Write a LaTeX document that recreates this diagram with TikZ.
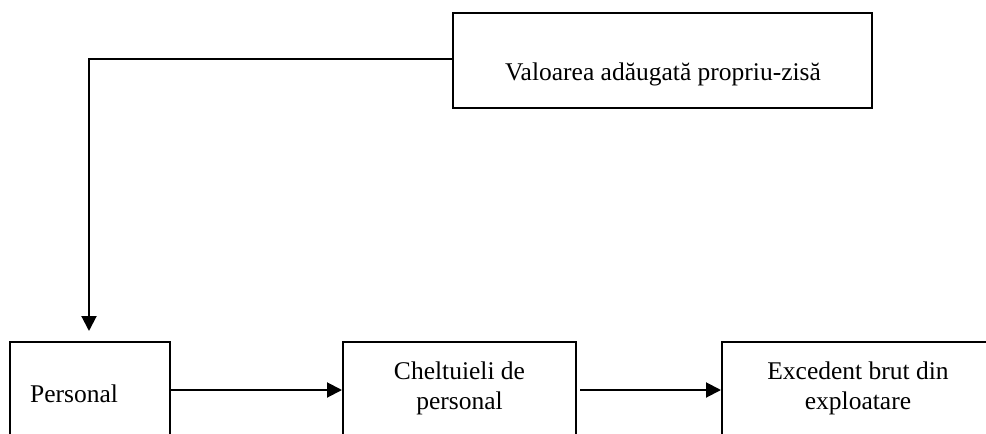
\documentclass[tikz,border=0pt]{standalone}
\usepackage{fontspec}
\setmainfont{Liberation Serif}
\usetikzlibrary{arrows.meta}
\begin{document}
\begin{tikzpicture}[x=1pt,y=-1pt,
  box/.style={draw, line width=2pt, rectangle, inner sep=0pt},
  label/.style={font=\fontsize{25.5}{30}\selectfont, inner sep=0pt},
  arr/.style={line width=2pt, -{Triangle[length=15pt,width=15pt]}}]
  \useasboundingbox (0,0) rectangle (986,434);
  \clip (0,0) rectangle (986,434);
  % boxes (the lower row runs past the bottom and right edges)
  \node[box, minimum width=419pt, minimum height=95pt] (top) at (662.5,60.5) {};
  \node[box, minimum width=160pt, minimum height=96pt] (pers) at (90,390) {};
  \node[box, minimum width=233pt, minimum height=96pt] (chelt) at (459.5,390) {};
  \node[box, minimum width=272pt, minimum height=96pt] (exc) at (858,390) {};
  % texts
  \node[label, anchor=base] (ttop) at (663,80) {Valoarea adăugată propriu-zisă};
  \node[label, anchor=base west] (tpers) at (30,402) {Personal};
  \node[label, align=center, anchor=center] (tchelt) at (459.5,388) {Cheltuieli de\\personal};
  \node[label, align=center, anchor=center] (texc) at (858,388) {Excedent brut din\\exploatare};
  % connectors
  \draw[arr] ([yshift=2pt]top.west) -| ([shift={(-1pt,10pt)}]pers.north);
  \draw[arr] (pers) -- (chelt);
  \draw[arr] ([xshift=3pt]chelt.east) -- (exc);
\end{tikzpicture}
\end{document}
